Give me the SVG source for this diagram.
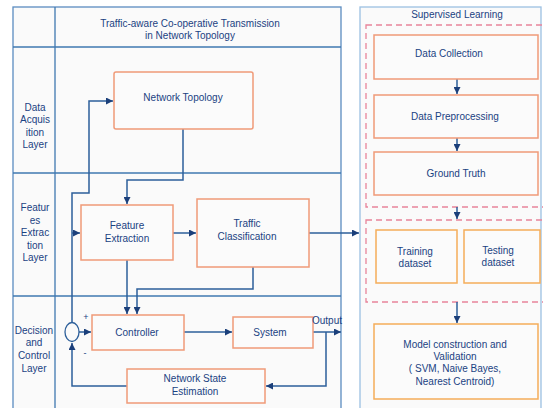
<svg xmlns="http://www.w3.org/2000/svg" width="543" height="408" viewBox="0 0 543 408">
<defs>
<style>
text{font-family:"Liberation Sans",Arial,sans-serif;font-size:10px;fill:#1a4282;text-anchor:middle}
.box{fill:#fbfbfb;stroke:#f09a78;stroke-width:1.5}
.ybox{fill:#fbfbfb;stroke:#f5ad5a;stroke-width:1.5}
.dash{fill:none;stroke:#e8849a;stroke-width:1.3;stroke-dasharray:6,4}
.ln{fill:none;stroke:#2d5f9a;stroke-width:1.5}
.grid{fill:none;stroke:#3f78b0;stroke-width:1.3}
</style>
<marker id="ah" viewBox="0 0 10 10" refX="10" refY="5" markerWidth="7" markerHeight="7" orient="auto" markerUnits="userSpaceOnUse">
<path d="M0,0 L10,5 L0,10 z" fill="#1b3f7a"/>
</marker>
</defs>
<rect width="543" height="408" fill="#ffffff"/>
<g id="left-panel">
<rect x="13" y="7" width="328" height="405" fill="#fafafa" stroke="#5b8cc0" stroke-width="1.3"/>
<line class="grid" x1="55" y1="7" x2="55" y2="408"/>
<line class="grid" x1="13" y1="47" x2="341" y2="47"/>
<line class="grid" x1="13" y1="173" x2="341" y2="173"/>
<line class="grid" x1="13" y1="296" x2="341" y2="296"/>
<text x="190" y="27">Traffic-aware Co-operative Transmission</text>
<text x="190" y="39">in Network Topology</text>
<text x="35" y="111">Data</text>
<text x="35" y="123">Acquis</text>
<text x="35" y="136">ition</text>
<text x="35" y="148">Layer</text>
<text x="35" y="211">Featur</text>
<text x="35" y="224">es</text>
<text x="35" y="236">Extrac</text>
<text x="35" y="249">tion</text>
<text x="35" y="261">Layer</text>
<text x="34" y="334">Decision</text>
<text x="34" y="346">and</text>
<text x="34" y="359">Control</text>
<text x="34" y="372">Layer</text>
</g>
<g id="right-panel">
<rect x="360" y="7" width="181" height="405" fill="#fafafa" stroke="#9cc0e2" stroke-width="1.3"/>
<text x="457" y="18">Supervised Learning</text>
<rect class="dash" x="366" y="25" width="180" height="182"/>
<rect class="dash" x="366" y="220" width="180" height="82"/>
</g>
<g id="connectors">
<path class="ln" d="M183,129 V180 H127 V204" marker-end="url(#ah)"/>
<path class="ln" d="M173,233 H196" marker-end="url(#ah)"/>
<path class="ln" d="M309,233 H359" marker-end="url(#ah)"/>
<path class="ln" d="M127,260 V314" marker-end="url(#ah)"/>
<path class="ln" d="M253,267 V289 H137 V314" marker-end="url(#ah)"/>
<path class="ln" d="M72,323 V193 H89 V101 H113" marker-end="url(#ah)"/>
<path class="ln" d="M72,233 H80" marker-end="url(#ah)"/>
<path class="ln" d="M79,332 H91" marker-end="url(#ah)"/>
<path class="ln" d="M184,332 H232" marker-end="url(#ah)"/>
<path class="ln" d="M313,332 H341" marker-end="url(#ah)"/>
<path class="ln" d="M326,332 V386 H266" marker-end="url(#ah)"/>
<path class="ln" d="M127,386 H72 V343" marker-end="url(#ah)"/>
<path class="ln" d="M457,79 V94" marker-end="url(#ah)"/>
<path class="ln" d="M457,138 V151" marker-end="url(#ah)"/>
<path class="ln" d="M457,207 V219" marker-end="url(#ah)"/>
<path class="ln" d="M457,302 V323" marker-end="url(#ah)"/>
</g>
<g id="network-topology">
<rect class="box" x="114" y="72" width="139" height="57" rx="2"/>
<text x="183" y="101">Network Topology</text>
</g>
<g id="feature-extraction">
<rect class="box" x="81" y="205" width="92" height="55"/>
<text x="127" y="229">Feature</text>
<text x="127" y="242">Extraction</text>
</g>
<g id="traffic-classification">
<rect class="box" x="197" y="199" width="112" height="68"/>
<text x="247" y="227">Traffic</text>
<text x="247" y="240">Classification</text>
</g>
<g id="sum-junction">
<ellipse cx="72" cy="332" rx="7" ry="9.5" fill="#fafafa" stroke="#2d5f9a" stroke-width="1.3"/>
<text x="86" y="320" style="font-size:9px">+</text>
<text x="85" y="356" style="font-size:9px">-</text>
</g>
<g id="controller">
<rect class="box" x="92" y="315" width="92" height="35"/>
<text x="137" y="336">Controller</text>
</g>
<g id="system">
<rect class="box" x="233" y="317" width="80" height="31"/>
<text x="270" y="336">System</text>
<text x="327" y="324">Output</text>
</g>
<g id="network-state-estimation">
<rect class="box" x="127" y="369" width="138" height="34"/>
<text x="195" y="382">Network State</text>
<text x="195" y="395">Estimation</text>
</g>
<g id="data-collection">
<rect class="box" x="374" y="35" width="164" height="44"/>
<text x="449" y="57">Data Collection</text>
</g>
<g id="data-preprocessing">
<rect class="box" x="374" y="95" width="164" height="43"/>
<text x="455" y="120">Data Preprocessing</text>
</g>
<g id="ground-truth">
<rect class="box" x="374" y="152" width="164" height="43"/>
<text x="456" y="177">Ground Truth</text>
</g>
<g id="training-dataset">
<rect class="ybox" x="376" y="230" width="81" height="53"/>
<text x="415" y="255">Training</text>
<text x="415" y="267">dataset</text>
</g>
<g id="testing-dataset">
<rect class="ybox" x="464" y="230" width="76" height="53"/>
<text x="498" y="254">Testing</text>
<text x="498" y="266">dataset</text>
</g>
<g id="model-construction">
<rect class="ybox" x="374" y="324" width="164" height="75"/>
<text x="455" y="348">Model construction and</text>
<text x="455" y="360">Validation</text>
<text x="455" y="372">( SVM, Naive Bayes,</text>
<text x="455" y="385">Nearest Centroid)</text>
</g>
</svg>
